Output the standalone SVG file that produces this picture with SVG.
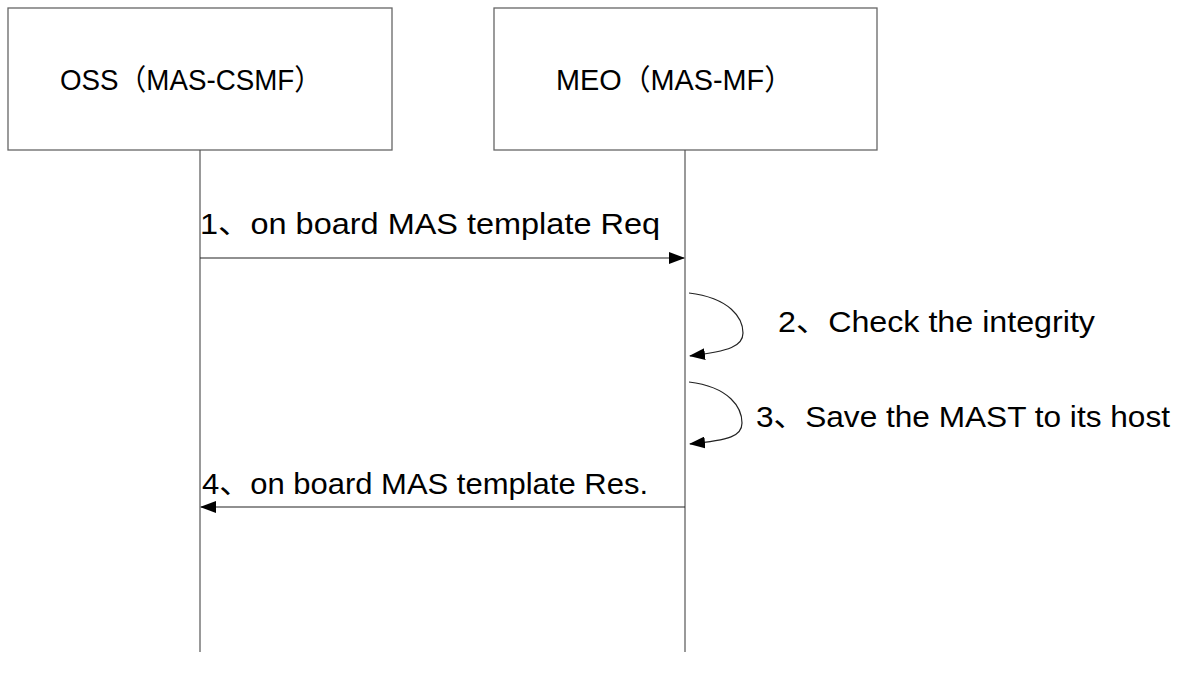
<svg xmlns="http://www.w3.org/2000/svg" width="1177" height="681" viewBox="0 0 1177 681">
<style>
.box{fill:#fff;stroke:#666;stroke-width:1.3}
.life{stroke:#555;stroke-width:1.2;fill:none}
.msg{stroke:#222;stroke-width:1.2;fill:none}
.t{font-family:"Liberation Sans","Noto Sans CJK SC",sans-serif;font-size:29px;fill:#000}
</style>
<defs>
<marker id="ah" markerWidth="16" markerHeight="12" refX="15" refY="6" orient="auto" markerUnits="userSpaceOnUse">
<path d="M0,0 L16,6 L0,12 Z" fill="#000"/>
</marker>
</defs>
<g id="oss">
<rect class="box" x="8" y="8" width="384" height="142"/>
<text class="t" x="60" y="90" textLength="262" lengthAdjust="spacingAndGlyphs">OSS（MAS-CSMF）</text>
</g>
<g id="meo">
<rect class="box" x="494" y="8" width="383" height="142"/>
<text class="t" x="556" y="90" textLength="237" lengthAdjust="spacingAndGlyphs">MEO（MAS-MF）</text>
</g>
<g id="connectors">
<line class="life" x1="200" y1="150" x2="200" y2="652"/>
<line class="life" x1="685" y1="150" x2="685" y2="652"/>
<line class="msg" x1="200" y1="258" x2="684" y2="258" marker-end="url(#ah)"/>
<line class="msg" x1="685" y1="507" x2="201" y2="507" marker-end="url(#ah)"/>
<path class="msg" d="M689,293 C730,298 743,318 743,333 C743,346 730,351 690,356" marker-end="url(#ah)"/>
<path class="msg" d="M689,382 C730,387 742,408 742,423 C742,436 730,440 690,444" marker-end="url(#ah)"/>
</g>
<text class="t" x="200" y="234" textLength="460" lengthAdjust="spacingAndGlyphs">1、on board MAS template Req</text>
<text class="t" x="778" y="332" textLength="317" lengthAdjust="spacingAndGlyphs">2、Check the integrity</text>
<text class="t" x="756" y="427" textLength="414" lengthAdjust="spacingAndGlyphs">3、Save the MAST to its host</text>
<text class="t" x="202" y="494" textLength="446" lengthAdjust="spacingAndGlyphs">4、on board MAS template Res.</text>
</svg>
